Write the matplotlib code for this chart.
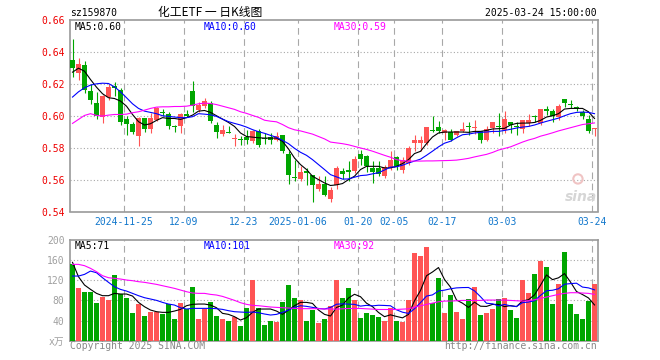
import numpy as np
import matplotlib
matplotlib.use('Agg')
import matplotlib.pyplot as plt

# ---- data (88 trading days, 2024-11-12 .. 2025-03-24) ----
opens = [0.6352, 0.6269, 0.6315, 0.6158, 0.6077, 0.5994, 0.6115, 0.6185, 0.6160, 0.5977,
         0.5946, 0.5870, 0.5983, 0.5915, 0.5975, 0.6025, 0.6008, 0.5931, 0.5935, 0.6008,
         0.6158, 0.6035, 0.6058, 0.6079, 0.5945, 0.5883, 0.5898, 0.5854, 0.5852, 0.5865,
         0.5840, 0.5906, 0.5858, 0.5865, 0.5850, 0.5877, 0.5763, 0.5612, 0.5604, 0.5648,
         0.5631, 0.5544, 0.5575, 0.5481, 0.5563, 0.5652, 0.5654, 0.5652, 0.5763, 0.5750,
         0.5673, 0.5673, 0.5625, 0.5673, 0.5742, 0.5663, 0.5704, 0.5829, 0.5829, 0.5829,
         0.5910, 0.5929, 0.5892, 0.5896, 0.5881, 0.5906, 0.5931, 0.5925, 0.5902, 0.5850,
         0.5923, 0.5931, 0.5908, 0.5963, 0.5931, 0.5917, 0.5954, 0.5994, 0.5954, 0.6044,
         0.6027, 0.5992, 0.6106, 0.6073, 0.6050, 0.6021, 0.5979, 0.5919]
highs = [0.6483, 0.6363, 0.6342, 0.6196, 0.6150, 0.6127, 0.6196, 0.6212, 0.6171, 0.5998,
         0.5962, 0.5990, 0.5988, 0.6015, 0.6056, 0.6040, 0.6023, 0.5944, 0.6015, 0.6035,
         0.6216, 0.6085, 0.6112, 0.6090, 0.5960, 0.5944, 0.5935, 0.5885, 0.5871, 0.5913,
         0.5913, 0.5917, 0.5892, 0.5892, 0.5896, 0.5881, 0.5777, 0.5725, 0.5683, 0.5673,
         0.5631, 0.5625, 0.5625, 0.5556, 0.5683, 0.5673, 0.5715, 0.5750, 0.5788, 0.5756,
         0.5715, 0.5715, 0.5694, 0.5777, 0.5750, 0.5742, 0.5808, 0.5881, 0.5875, 0.5927,
         0.6000, 0.5965, 0.5917, 0.5917, 0.5906, 0.5960, 0.5960, 0.5975, 0.5902, 0.5933,
         0.5963, 0.6017, 0.6031, 0.5963, 0.5958, 0.5975, 0.6013, 0.6006, 0.6044, 0.6063,
         0.6044, 0.6073, 0.6106, 0.6096, 0.6063, 0.6038, 0.6006, 0.5925]
lows = [0.6242, 0.6223, 0.6140, 0.6071, 0.5977, 0.5954, 0.6098, 0.6123, 0.5942, 0.5879,
        0.5883, 0.5810, 0.5900, 0.5894, 0.5970, 0.5998, 0.5915, 0.5896, 0.5892, 0.5990,
        0.6025, 0.6025, 0.6050, 0.5954, 0.5860, 0.5871, 0.5890, 0.5810, 0.5819, 0.5825,
        0.5829, 0.5804, 0.5825, 0.5825, 0.5840, 0.5769, 0.5575, 0.5594, 0.5594, 0.5569,
        0.5458, 0.5527, 0.5494, 0.5458, 0.5542, 0.5604, 0.5594, 0.5640, 0.5694, 0.5646,
        0.5579, 0.5621, 0.5610, 0.5663, 0.5663, 0.5640, 0.5694, 0.5777, 0.5777, 0.5819,
        0.5896, 0.5892, 0.5846, 0.5840, 0.5875, 0.5896, 0.5881, 0.5885, 0.5829, 0.5840,
        0.5890, 0.5871, 0.5892, 0.5892, 0.5877, 0.5892, 0.5933, 0.5958, 0.5944, 0.6006,
        0.5958, 0.5975, 0.6056, 0.6048, 0.6029, 0.5979, 0.5892, 0.5871]
closes = [0.6300, 0.6327, 0.6160, 0.6098, 0.5998, 0.6125, 0.6183, 0.6172, 0.5960, 0.5946,
          0.5898, 0.5983, 0.5917, 0.5983, 0.6046, 0.6019, 0.5935, 0.5927, 0.6008, 0.6000,
          0.6058, 0.6066, 0.6090, 0.5965, 0.5896, 0.5913, 0.5894, 0.5863, 0.5848, 0.5846,
          0.5902, 0.5815, 0.5854, 0.5850, 0.5875, 0.5781, 0.5627, 0.5608, 0.5646, 0.5644,
          0.5565, 0.5575, 0.5506, 0.5533, 0.5673, 0.5635, 0.5650, 0.5729, 0.5731, 0.5683,
          0.5646, 0.5638, 0.5679, 0.5725, 0.5683, 0.5725, 0.5798, 0.5850, 0.5850, 0.5927,
          0.5906, 0.5902, 0.5908, 0.5850, 0.5902, 0.5917, 0.5927, 0.5931, 0.5850, 0.5917,
          0.5963, 0.5927, 0.5981, 0.5942, 0.5927, 0.5975, 0.5975, 0.5990, 0.6044, 0.6027,
          0.6000, 0.6063, 0.6083, 0.6069, 0.6046, 0.6000, 0.5902, 0.5925]

ma5 = [0.6273, 0.6298, 0.6279, 0.6227, 0.6179, 0.6138, 0.6113, 0.6108, 0.6092, 0.6060,
       0.6008, 0.5963, 0.5942, 0.5950, 0.5971, 0.5988, 0.5983, 0.5983, 0.5977, 0.5988,
       0.6004, 0.6029, 0.6033, 0.6021, 0.6000, 0.5979, 0.5958, 0.5933, 0.5892, 0.5870,
       0.5866, 0.5862, 0.5860, 0.5860, 0.5860, 0.5840, 0.5792, 0.5735, 0.5694, 0.5663,
       0.5621, 0.5600, 0.5579, 0.5563, 0.5567, 0.5575, 0.5600, 0.5621, 0.5663, 0.5683,
       0.5683, 0.5683, 0.5673, 0.5673, 0.5683, 0.5700, 0.5725, 0.5763, 0.5777, 0.5825,
       0.5867, 0.5892, 0.5898, 0.5898, 0.5898, 0.5898, 0.5896, 0.5902, 0.5902, 0.5908,
       0.5917, 0.5919, 0.5921, 0.5942, 0.5952, 0.5954, 0.5954, 0.5958, 0.5971, 0.5992,
       0.6000, 0.6013, 0.6042, 0.6046, 0.6046, 0.6046, 0.6025, 0.5983]
ma10 = [0.6117, 0.6150, 0.6175, 0.6192, 0.6200, 0.6204, 0.6202, 0.6181, 0.6150, 0.6113,
        0.6075, 0.6046, 0.6029, 0.6021, 0.6013, 0.6000, 0.5996, 0.5992, 0.5988, 0.5988,
        0.5994, 0.6013, 0.6010, 0.6006, 0.5996, 0.5979, 0.5963, 0.5952, 0.5942, 0.5929,
        0.5913, 0.5900, 0.5890, 0.5877, 0.5865, 0.5846, 0.5825, 0.5796, 0.5771, 0.5752,
        0.5725, 0.5694, 0.5663, 0.5631, 0.5617, 0.5603, 0.5604, 0.5615, 0.5625, 0.5628,
        0.5636, 0.5643, 0.5660, 0.5678, 0.5680, 0.5690, 0.5704, 0.5716, 0.5728, 0.5752,
        0.5778, 0.5805, 0.5828, 0.5840, 0.5862, 0.5881, 0.5885, 0.5892, 0.5896, 0.5898,
        0.5902, 0.5902, 0.5908, 0.5915, 0.5923, 0.5929, 0.5933, 0.5942, 0.5954, 0.5965,
        0.5975, 0.5985, 0.6000, 0.6013, 0.6021, 0.6023, 0.6021, 0.6013]
ma30 = [0.5952, 0.5977, 0.6002, 0.6013, 0.6002, 0.5998, 0.6004, 0.6008, 0.6008, 0.6010,
        0.6019, 0.6025, 0.6035, 0.6046, 0.6054, 0.6056, 0.6056, 0.6058, 0.6058, 0.6060,
        0.6066, 0.6075, 0.6079, 0.6077, 0.6070, 0.6060, 0.6050, 0.6040, 0.6025, 0.6015,
        0.6002, 0.5990, 0.5972, 0.5966, 0.5962, 0.5945, 0.5925, 0.5912, 0.5905, 0.5895,
        0.5885, 0.5870, 0.5855, 0.5835, 0.5830, 0.5825, 0.5818, 0.5808, 0.5798, 0.5789,
        0.5778, 0.5765, 0.5752, 0.5740, 0.5725, 0.5718, 0.5716, 0.5716, 0.5716, 0.5717,
        0.5717, 0.5718, 0.5719, 0.5720, 0.5722, 0.5727, 0.5733, 0.5742, 0.5750, 0.5758,
        0.5770, 0.5785, 0.5795, 0.5805, 0.5820, 0.5835, 0.5848, 0.5858, 0.5872, 0.5882,
        0.5893, 0.5905, 0.5915, 0.5925, 0.5935, 0.5945, 0.5950, 0.5955]

volume = [152, 105.3, 97.3, 97.3, 75.3, 86.7, 81.3, 131.3, 93.3, 85.3,
          55.3, 73.3, 49.3, 57.3, 57.3, 53.3, 72.7, 43.3, 75.3, 62.7,
          107.3, 44, 62, 77.3, 49.3, 43.3, 40, 47.3, 29.3, 65.3,
          121.3, 65.3, 32, 40, 37.3, 77.3, 111.3, 85.3, 80, 40,
          61.3, 35.3, 44, 69.3, 120, 85.3, 105.3, 81.3, 45.3, 55.3,
          51.3, 47.3, 39.3, 64, 39.3, 37.3, 81.3, 174, 167.3, 185.3,
          74.7, 125.3, 55.3, 91.3, 57.3, 43.3, 83.3, 107.3, 51.3, 55.3,
          63.3, 83.3, 85.3, 61.3, 45.3, 120, 95.3, 133.3, 157.3, 147.3,
          73.3, 113.3, 175.3, 73.3, 53.3, 43.3, 79.3, 113.3]
vma5 = [155.6, 127, 110.6, 102, 94, 89.4, 89.4, 94, 92.7, 92.7,
        88.7, 76.1, 67.5, 60.9, 57.6, 56.3, 56.3, 58.9, 62.2, 69.5,
        72.2, 72.8, 72.8, 70.8, 65.5, 54.3, 52.3, 47.7, 41, 45.7,
        56.3, 62.9, 62.9, 62.9, 58.9, 52.3, 60.9, 69.5, 76.1, 76.1,
        74.1, 60.9, 52.3, 49, 66, 70.8, 84.8, 92.2, 87.4, 74.5,
        67.7, 56.1, 47.7, 51.4, 48.2, 45.4, 52.2, 79.2, 99.8, 129,
        136.5, 145.3, 121.6, 106.4, 80.8, 74.5, 66.1, 76.5, 68.5, 68.1,
        72.1, 72.1, 67.7, 69.7, 67.7, 79, 81.4, 91, 110.2, 130.6,
        121.3, 124.9, 133.3, 116.5, 97.7, 91.7, 84.9, 71]
vma10 = [128.4, 128.4, 131.7, 138.3, 135, 125.1, 115.9, 107.2, 101.9, 98.6,
         94, 89.4, 85.4, 82.8, 80.1, 76.1, 72.8, 70.8, 65.5, 62.9,
         64.2, 64.2, 64.2, 64.2, 63.6, 62.2, 59.6, 57.6, 56.9, 56.3,
         56.9, 55.6, 53, 51, 52.3, 56.3, 60.9, 66.2, 69.5, 68.2,
         66.2, 64, 63, 66, 72.4, 73.2, 72.6, 72.2, 68.7, 70.2,
         69.2, 70.4, 70, 69.4, 61.4, 56.6, 54.2, 63.4, 75.6, 88.6,
         91, 98.8, 100.4, 103.1, 104.9, 105.5, 105.7, 99, 87.4, 74.4,
         73.3, 69.1, 72.1, 69.1, 67.9, 75.6, 76.8, 79.4, 90, 99.2,
         100.2, 103.2, 112.2, 113.4, 114.2, 106.5, 104.9, 101]
vma30 = [151.6, 151.6, 149, 143.7, 137, 129.1, 125.1, 123.8, 122.5, 120.5,
         119.2, 117.2, 115.9, 113.9, 111.9, 109.2, 106.6, 103.9, 100.6, 97.3,
         94.7, 94, 94, 92, 90.7, 88, 84.1, 80.1, 75.5, 72.2,
         70.2, 69.5, 68.2, 66.9, 66.2, 65.5, 64.9, 64.2, 63.6, 63.6,
         63.6, 63.6, 62.9, 62.9, 62.7, 63.3, 64, 64, 64, 63.3,
         62.7, 62, 62, 62, 62, 62.7, 63.3, 66.7, 69.3, 72,
         74.7, 77.3, 78.7, 78.7, 79.3, 80, 80, 80, 80, 80.7,
         80.7, 80.7, 80.7, 80, 79.3, 78.7, 79.3, 81.3, 84, 86.7,
         89.3, 92, 94, 95.3, 95.3, 94.7, 94, 92]

tick_idx = [9, 19, 29, 38, 48, 54, 62, 72, 87]
tick_lbl = ['2024-11-25', '12-09', '12-23', '2025-01-06', '01-20', '02-05',
            '02-17', '03-03', '03-24']
price_ticks = [0.54, 0.56, 0.58, 0.60, 0.62, 0.64, 0.66]
vol_ticks = [0, 40, 80, 120, 160, 200]
vol_tick_lbl = ['x万', '40', '80', '120', '160', '200']

RED = '#ff5454'
GREEN = '#00a600'
GRID = '#a8a8a8'
MONO = 'DejaVu Sans Mono'
CJK = ['Noto Sans CJK SC', 'DejaVu Sans']

W, H = 660, 360


def fx(px):
    return px / W


def fy(py):
    return 1 - py / H


fig = plt.figure(figsize=(6.6, 3.6), dpi=100)
ax = fig.add_axes([fx(70), fy(211.5), fx(598) - fx(70), fy(20) - fy(211.5)])
axv = fig.add_axes([fx(70), fy(340.7), fx(598) - fx(70), fy(240) - fy(340.7)])

n = len(closes)
x = np.arange(n)
o = np.array(opens)
c = np.array(closes)
cols = [RED if c[i] >= o[i] else GREEN for i in range(n)]
bw = 5 / 6.0
edge = 2.5 / 6.0

# candles
ax.vlines(x, lows, highs, colors=cols, linewidth=0.8, zorder=3)
ax.bar(x, np.maximum(np.abs(c - o), 0.0007), bottom=np.minimum(o, c), width=bw,
       color=cols, linewidth=0, zorder=4)
ax.plot(x, ma5, color='black', lw=0.8, zorder=5)
ax.plot(x, ma10, color='#0000ff', lw=0.8, zorder=5)
ax.plot(x, ma30, color='#ff00ff', lw=0.8, zorder=5)

# volume
axv.bar(x, volume, width=bw, color=cols, linewidth=0, zorder=3)
axv.plot(x, vma5, color='black', lw=0.8, zorder=5)
axv.plot(x, vma10, color='#0000ff', lw=0.8, zorder=5)
axv.plot(x, vma30, color='#ff00ff', lw=0.8, zorder=5)

for a in (ax, axv):
    a.set_xlim(-edge, (598 - 72.5) / 6.0)
    for g in tick_idx:
        a.axvline(g - edge, color=GRID, lw=0.8, linestyle=(0, (6, 4)), zorder=1)
    for s in a.spines.values():
        s.set_color('#999999')
        s.set_linewidth(1.2)
    a.tick_params(length=0)

ax.set_ylim(0.54, 0.66)
for p in price_ticks[1:-1]:
    ax.axhline(p, color=GRID, lw=0.8, linestyle=(0, (1, 2)), zorder=1)
ax.set_yticks(price_ticks)
ax.set_yticklabels(['%.2f' % p for p in price_ticks], color='#ee0000',
                   fontfamily=MONO, fontsize=7)
ax.tick_params(axis='y', pad=4)
ax.set_xticks([g - edge for g in tick_idx])
ax.set_xticklabels(tick_lbl, color='#1177cc', fontfamily=MONO, fontsize=7)
ax.tick_params(axis='x', pad=4)

axv.set_ylim(0, 200)
for v in vol_ticks[1:-1]:
    axv.axhline(v, color=GRID, lw=0.8, linestyle=(0, (1, 2)), zorder=1)
axv.set_yticks(vol_ticks)
axv.set_yticklabels(vol_tick_lbl, color='#a0a0a0', fontsize=7, family=[MONO] + CJK)
axv.tick_params(axis='y', pad=4)
axv.set_xticks([])

# texts
def ptext(px, py, s, **kw):
    fig.text(fx(px), fy(py), s, va='center', **kw)

ptext(70, 12.5, 'sz159870', fontfamily=MONO, fontsize=7, color='black')
ptext(210, 12.5, '化工ETF 一 日K线图', family=CJK, fontsize=8.5, color='black', ha='center')
ptext(597, 12.5, '2025-03-24 15:00:00', fontfamily=MONO, fontsize=7, color='black', ha='right')

ptext(75, 26.5, 'MA5:0.60', fontfamily=MONO, fontsize=7, color='black')
ptext(204, 26.5, 'MA10:0.60', fontfamily=MONO, fontsize=7, color='#0000ff')
ptext(334, 26.5, 'MA30:0.59', fontfamily=MONO, fontsize=7, color='#ff00ff')

ptext(75, 246, 'MA5:71', fontfamily=MONO, fontsize=7, color='black')
ptext(204, 246, 'MA10:101', fontfamily=MONO, fontsize=7, color='#0000ff')
ptext(334, 246, 'MA30:92', fontfamily=MONO, fontsize=7, color='#ff00ff')

ptext(70, 346, 'Copyright 2025 SINA.COM', fontfamily=MONO, fontsize=7, color='#888888')
ptext(597, 346, 'http://finance.sina.com.cn', fontfamily=MONO, fontsize=7,
      color='#888888', ha='right')

# sina watermark: small eye mark plus the word
ax.scatter([0.962], [0.17], s=45, transform=ax.transAxes, facecolors='none',
           edgecolors='#f0c4c4', linewidths=1.5, zorder=2)
ptext(581, 197, 'sina', fontfamily='DejaVu Sans', fontsize=10, fontweight='bold',
      fontstyle='italic', color='#d6d6d6', ha='center')

fig.savefig('out.png', dpi=100)
